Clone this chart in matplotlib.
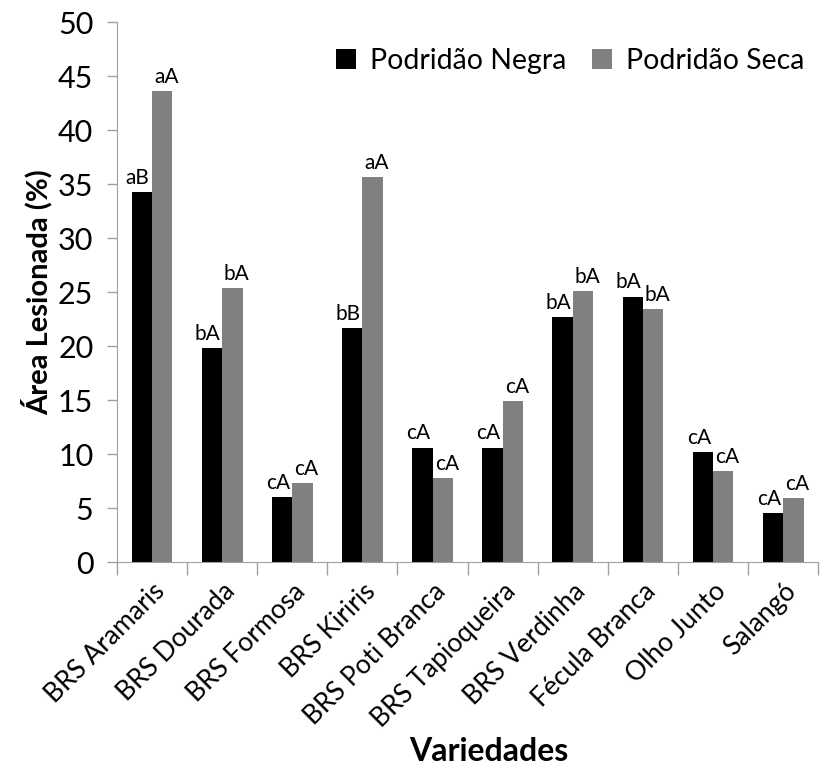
import matplotlib
matplotlib.use("Agg")
import matplotlib.pyplot as plt
import numpy as np

categories = ["BRS Aramaris", "BRS Dourada", "BRS Formosa", "BRS Kiriris",
              "BRS Poti Branca", "BRS Tapioqueira", "BRS Verdinha",
              "Fécula Branca", "Olho Junto", "Salangó"]
negra = [34.3, 19.85, 6.0, 21.7, 10.6, 10.6, 22.7, 24.6, 10.2, 4.55]
seca = [43.6, 25.4, 7.3, 35.7, 7.8, 14.9, 25.1, 23.4, 8.45, 5.9]
lab_negra = ["aB", "bA", "cA", "bB", "cA", "cA", "bA", "bA", "cA", "cA"]
lab_seca = ["aA", "bA", "cA", "aA", "cA", "cA", "bA", "bA", "cA", "cA"]

plt.rcParams['font.family'] = ['Lato', 'DejaVu Sans']

fig = plt.figure(figsize=(8.24, 7.71), dpi=100)
ax = fig.add_axes([0.142, 0.271, 0.851, 0.700])

x = np.arange(len(categories))
w = 0.29
ax.bar(x - w/2, negra, w, color="black", label="Podridão Negra")
ax.bar(x + w/2, seca, w, color="#808080", label="Podridão Seca")

for xi, v, t in zip(x, negra, lab_negra):
    ax.annotate(t, (xi - w/2, v), xytext=(-3, 3), textcoords="offset points",
                ha="center", va="bottom", fontsize=15)
for xi, v, t in zip(x, seca, lab_seca):
    ax.annotate(t, (xi + w/2, v), xytext=(3, 3), textcoords="offset points",
                ha="center", va="bottom", fontsize=15)

ax.set_xlim(-0.5, len(categories) - 0.5)
ax.set_ylim(0, 50)
ax.set_yticks(np.arange(0, 51, 5))
ax.tick_params(axis="y", labelsize=22, length=7, color="#a0a0a0", width=1, pad=10)
ax.set_xticks(x)
ax.set_xticklabels(categories, rotation=45, ha="right", rotation_mode="anchor", fontsize=19)
ax.tick_params(axis="x", length=0, pad=12)
ax.set_xticks(np.arange(-0.5, len(categories), 1), minor=True)
ax.tick_params(axis="x", which="minor", length=9, color="#a0a0a0", width=1)

for s in ["top", "right"]:
    ax.spines[s].set_visible(False)
for s in ["left", "bottom"]:
    ax.spines[s].set_color("#a0a0a0")

ax.set_ylabel("Área Lesionada (%)", fontsize=21, fontweight="bold", labelpad=4)
ax.set_xlabel("Variedades", fontsize=23, fontweight="bold", labelpad=2)
ax.xaxis.set_label_coords(0.53, -0.325)

ax.legend(loc="upper right", bbox_to_anchor=(1.005, 0.985), ncol=2, frameon=False,
          fontsize=20.5, handlelength=0.7, handleheight=0.7, columnspacing=0.9,
          handletextpad=0.5, borderaxespad=0.2)

fig.savefig("out.png", dpi=100)
